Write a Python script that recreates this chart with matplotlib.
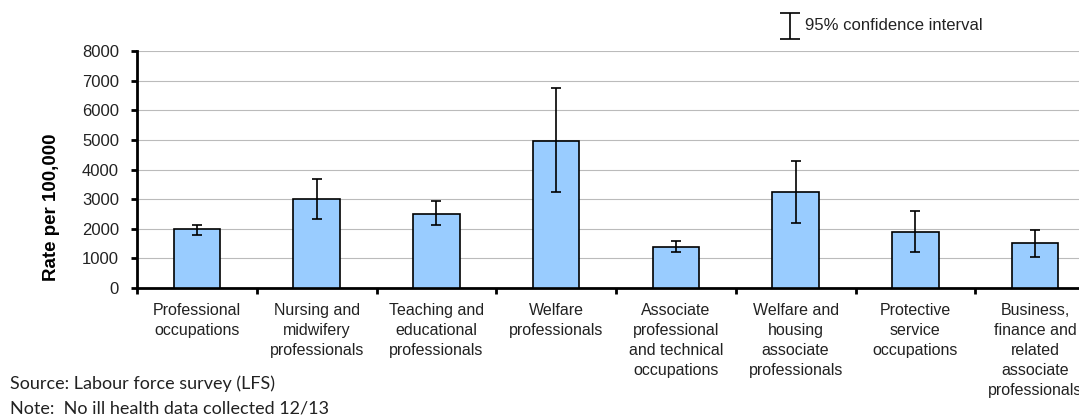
import numpy as np
import matplotlib
matplotlib.use("Agg")
import matplotlib.pyplot as plt

# 数据
categories = [
    "Professional\noccupations",
    "Nursing and\nmidwifery\nprofessionals",
    "Teaching and\neducational\nprofessionals",
    "Welfare\nprofessionals",
    "Associate\nprofessional\nand technical\noccupations",
    "Welfare and\nhousing\nassociate\nprofessionals",
    "Protective\nservice\noccupations",
    "Business,\nfinance and\nrelated\nassociate\nprofessionals",
]
rates = [1980, 2990, 2490, 4970, 1375, 3240, 1900, 1525]
ci_low = [1780, 2330, 2120, 3240, 1200, 2190, 1200, 1060]
ci_high = [2130, 3680, 2920, 6740, 1580, 4280, 2600, 1950]

plt.rcParams["font.family"] = ["Liberation Sans", "DejaVu Sans"]

fig = plt.figure(figsize=(10.79, 4.16), dpi=100)
ax = fig.add_axes([137 / 1079, 128 / 416, 958 / 1079, 237 / 416])

x = np.arange(len(categories))
yerr = [np.array(rates) - np.array(ci_low), np.array(ci_high) - np.array(rates)]
ax.bar(x, rates, width=0.39, color="#99CCFF", edgecolor="black", linewidth=1.2, zorder=3)
ax.errorbar(x, rates, yerr=yerr, fmt="none", ecolor="black", elinewidth=1.2,
            capsize=3.5, capthick=1.2, zorder=4)

ax.set_xlim(-0.5, len(categories) - 0.5)
ax.set_ylim(0, 8000)
ax.set_yticks(range(0, 8001, 1000))
ax.tick_params(axis="y", labelsize=12, width=2, length=4, direction="out", pad=9,
               labelcolor="#222222")

# x 轴刻度放在类别之间，标签放在中心
ax.set_xticks(np.arange(-0.5, len(categories), 1.0))
ax.set_xticklabels([])
ax.tick_params(axis="x", width=2, length=4, direction="out")
ax.set_xticks(x, minor=True)
ax.set_xticklabels(categories, minor=True, fontsize=11.5, linespacing=1.42,
                   color="#222222")
ax.tick_params(axis="x", which="minor", length=0, pad=11)

ax.grid(axis="y", color="#BBBBBB", linewidth=0.8, zorder=0)
ax.set_axisbelow(True)
for s in ["top", "right"]:
    ax.spines[s].set_visible(False)
ax.spines["left"].set_linewidth(2)
ax.spines["bottom"].set_linewidth(2)

ax.set_ylabel("Rate per 100,000", fontsize=13.5, fontweight="bold")
ax.yaxis.set_label_coords(-0.080, 0.34)

# 图例: 置信区间
lax = fig.add_axes([780 / 1079, 1 - 40 / 416, 20 / 1079, 28 / 416])
lax.errorbar([0], [0], yerr=[[1], [1]], fmt="none", ecolor="black", elinewidth=1.2,
             capsize=7, capthick=1.2)
lax.set_xlim(-1, 1)
lax.set_ylim(-1.1, 1.1)
lax.axis("off")
fig.text(805 / 1079, 1 - 25 / 416, "95% confidence interval", fontsize=12,
         va="center", color="#222222")

fig.text(10 / 1079, 1 - 384 / 416, "Source: Labour force survey (LFS)",
         fontsize=13, va="center", family=["Lato", "DejaVu Sans"], color="#222222")
fig.text(10 / 1079, 1 - 408 / 416, "Note:  No ill health data collected 12/13",
         fontsize=13, va="center", family=["Lato", "DejaVu Sans"], color="#222222")

plt.savefig("out.png", dpi=100)
plt.close()
